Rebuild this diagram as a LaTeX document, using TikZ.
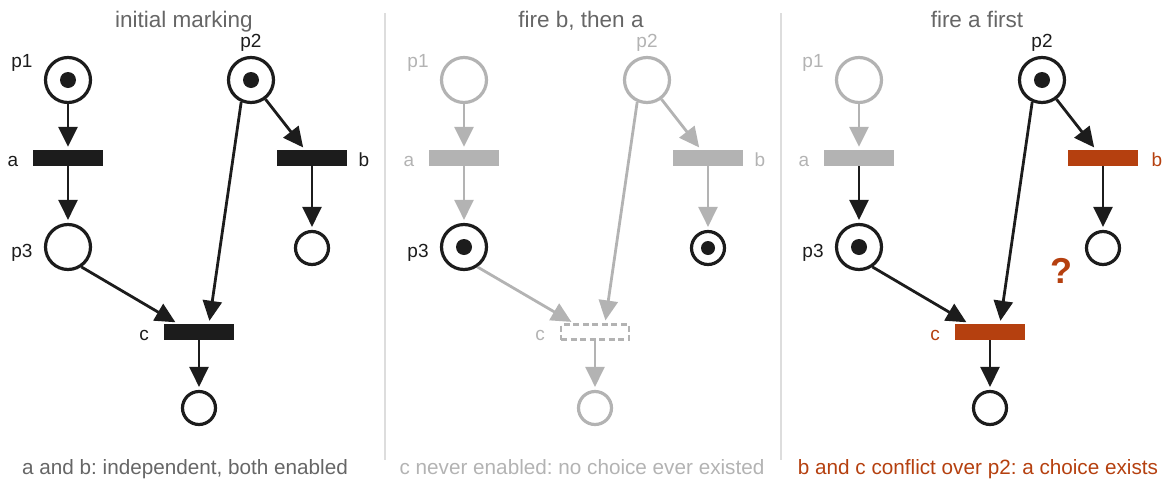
\documentclass[tikz,border=0pt]{standalone}
\usepackage{fontspec}
\setmainfont{Liberation Sans}
\usetikzlibrary{arrows.meta,calc}
\frenchspacing
\definecolor{ink}{HTML}{1C1C1C}
\definecolor{dim}{HTML}{B3B3B3}
\definecolor{rust}{HTML}{B5400F}
\definecolor{titlegray}{HTML}{666666}
\definecolor{rulegray}{HTML}{DDDDDD}
\tikzset{
  place/.style={circle, draw, line width=3.2pt, minimum size=45pt, inner sep=0pt},
  sink/.style={circle, draw, line width=3.2pt, minimum size=33pt, inner sep=0pt},
  trans/.style={rectangle, minimum width=70pt, minimum height=16pt, inner sep=0pt},
  tok/.style={circle, fill=ink, minimum size=16pt, inner sep=0pt},
  stok/.style={circle, fill=ink, minimum size=14pt, inner sep=0pt},
  flow/.style={line width=2.8pt, -{Triangle[length=20pt,width=19pt]}, shorten >=3pt},
  lab/.style={font=\fontsize{19}{22}\selectfont, anchor=base, inner sep=0pt},
  ttl/.style={font=\fontsize{22.5}{26}\selectfont, text=titlegray, anchor=base, inner sep=0pt},
  captxt/.style={font=\fontsize{20.7}{24}\selectfont\frenchspacing, anchor=base, inner sep=0pt},
  divider/.style={rulegray, line width=1.8pt},
}
\begin{document}
\frenchspacing
\begin{tikzpicture}[x=1pt,y=-1pt]
\useasboundingbox (0,0) rectangle (1163,480);
% dividers
\coordinate (d1t) at (385,13); \coordinate (d1b) at (385,460);
\coordinate (d2t) at (781,13); \coordinate (d2b) at (781,460);
\draw[divider] (d1t) -- (d1b);
\draw[divider] (d2t) -- (d2b);
% titles and captions
\node[ttl] (t1) at (184,27) {initial marking};
\node[ttl] (t2) at (581,27) {fire b, then a};
\node[ttl] (t3) at (977,27) {fire a first};
\node[captxt, text=titlegray] (c1) at (185,474) {a and b: independent, both enabled};
\node[captxt, text=dim] (c2) at (582,474) {c never enabled: no choice ever existed};
\node[captxt, text=rust] (c3) at (978,474) {b and c conflict over p2: a choice exists};

% ---------------- panel 1 ----------------
\node[place,draw=ink] (p1A) at (68,80) {};
\node[tok] (k1A) at (p1A) {};
\node[place,draw=ink] (p2A) at (251,80) {};
\node[tok] (k2A) at (p2A) {};
\node[trans,fill=ink] (aA) at (68,158) {};
\node[trans,fill=ink] (bA) at (312,158) {};
\node[place,draw=ink] (p3A) at (68,247) {};
\node[sink,draw=ink] (obA) at (312,248) {};
\node[trans,fill=ink] (cA) at (199,332) {};
\node[sink,draw=ink] (ocA) at (199,408) {};
\node[lab,text=ink] (lp1A) at (22,67) {p1};
\node[lab,text=ink] (lp2A) at (251,47) {p2};
\node[lab,text=ink] (laA) at (13,166) {a};
\node[lab,text=ink] (lbA) at (364,166) {b};
\node[lab,text=ink] (lp3A) at (22,257) {p3};
\node[lab,text=ink] (lcA) at (144,340) {c};
\coordinate (bInA) at ($(bA.north)+(-7,0)$);
\coordinate (cInLA) at ($(cA.north)+(-21,0)$);
\coordinate (cInRA) at ($(cA.north)+(10,0)$);
\draw[flow,ink] (p1A) -- (aA);
\draw[flow,ink] (aA) -- (p3A);
\draw[flow,ink] (p2A.307) -- (bInA);
\draw[flow,ink] (bA) -- (obA);
\draw[flow,ink] (p3A.304) -- (cInLA);
\draw[flow,ink] (p2A.246) -- (cInRA);
\draw[flow,ink] (cA) -- (ocA);

% ---------------- panel 2 ----------------
\begin{scope}[xshift=396pt]
\node[place,draw=dim] (p1B) at (68,80) {};
\node[place,draw=dim] (p2B) at (251,80) {};
\node[trans,fill=dim] (aB) at (68,158) {};
\node[trans,fill=dim] (bB) at (312,158) {};
\node[place,draw=ink] (p3B) at (68,247) {};
\node[tok] (k3B) at (p3B) {};
\node[sink,draw=ink] (obB) at (312,248) {};
\node[stok] (kbB) at (obB) {};
\node[trans,draw=dim,line width=2.2pt,dash pattern=on 6pt off 3.5pt,minimum width=68pt,minimum height=15pt] (cB) at (199,332) {};
\node[sink,draw=dim] (ocB) at (199,408) {};
\node[lab,text=dim] (lp1B) at (22,67) {p1};
\node[lab,text=dim] (lp2B) at (251,47) {p2};
\node[lab,text=dim] (laB) at (13,166) {a};
\node[lab,text=dim] (lbB) at (364,166) {b};
\node[lab,text=ink] (lp3B) at (22,257) {p3};
\node[lab,text=dim] (lcB) at (144,340) {c};
\coordinate (bInB) at ($(bB.north)+(-7,0)$);
\coordinate (cInLB) at ($(cB.north)+(-21,0)$);
\coordinate (cInRB) at ($(cB.north)+(10,0)$);
\draw[flow,dim] (p1B) -- (aB);
\draw[flow,dim] (aB) -- (p3B);
\draw[flow,dim] (p2B.307) -- (bInB);
\draw[flow,dim] (bB) -- (obB);
\draw[flow,dim] (p3B.304) -- (cInLB);
\draw[flow,dim] (p2B.246) -- (cInRB);
\draw[flow,dim] (cB) -- (ocB);
\end{scope}

% ---------------- panel 3 ----------------
\begin{scope}[xshift=791pt]
\node[place,draw=dim] (p1C) at (68,80) {};
\node[place,draw=ink] (p2C) at (251,80) {};
\node[tok] (k2C) at (p2C) {};
\node[trans,fill=dim] (aC) at (68,158) {};
\node[trans,fill=rust] (bC) at (312,158) {};
\node[place,draw=ink] (p3C) at (68,247) {};
\node[tok] (k3C) at (p3C) {};
\node[sink,draw=ink] (obC) at (312,248) {};
\node[trans,fill=rust] (cC) at (199,332) {};
\node[sink,draw=ink] (ocC) at (199,408) {};
\node[lab,text=dim] (lp1C) at (22,67) {p1};
\node[lab,text=ink] (lp2C) at (251,47) {p2};
\node[lab,text=dim] (laC) at (13,166) {a};
\node[lab,text=rust] (lbC) at (366,166) {b};
\node[lab,text=ink] (lp3C) at (22,257) {p3};
\node[lab,text=rust] (lcC) at (144,340) {c};
\node[font=\fontsize{36}{40}\selectfont\bfseries, text=rust, anchor=base, inner sep=0pt] (qC) at (270,283) {?};
\coordinate (bInC) at ($(bC.north)+(-7,0)$);
\coordinate (cInLC) at ($(cC.north)+(-21,0)$);
\coordinate (cInRC) at ($(cC.north)+(10,0)$);
\draw[flow,dim] (p1C) -- (aC);
\draw[flow,ink] (aC) -- (p3C);
\draw[flow,ink] (p2C.307) -- (bInC);
\draw[flow,ink] (bC) -- (obC);
\draw[flow,ink] (p3C.304) -- (cInLC);
\draw[flow,ink] (p2C.246) -- (cInRC);
\draw[flow,ink] (cC) -- (ocC);
\end{scope}
\end{tikzpicture}
\end{document}
